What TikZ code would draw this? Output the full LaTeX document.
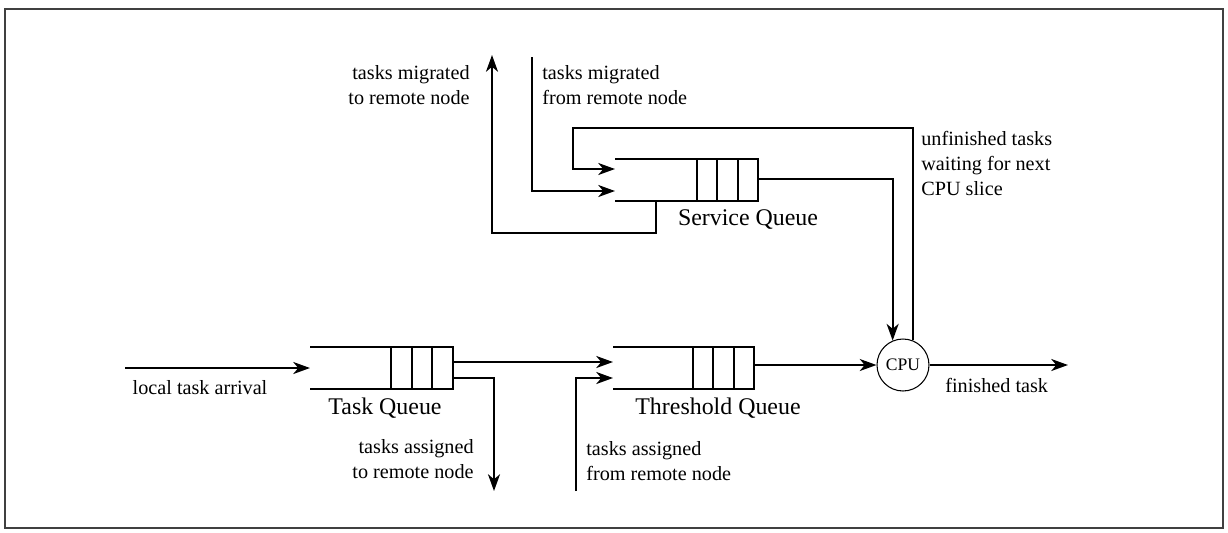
\documentclass[tikz,border=0pt]{standalone}
\usepackage{fontspec}
\setmainfont{Liberation Serif}
\usetikzlibrary{arrows.meta}

\tikzset{
  flow/.style={line width=1.3pt,-{Stealth[length=9.5pt,width=6.8pt,inset=2.8pt]}},
  wire/.style={line width=1.3pt},
  qline/.style={line width=0.6pt},
  frame/.style={line width=1pt,draw=black!75},
  lbl/.style={font=\fontsize{11.5}{14.2}\selectfont,inner sep=0pt},
  qname/.style={font=\fontsize{13.6}{16}\selectfont,inner sep=0pt},
  cpu/.style={draw,circle,line width=0.6pt,minimum size=1.04cm,inner sep=0pt,font=\fontsize{10}{12}\selectfont}
}

\begin{document}
\begin{tikzpicture}[x=0.02cm,y=-0.02cm]

  \useasboundingbox (0,0) rectangle (1228,532);

  % Draw frame
  \draw[frame] (5,9) rectangle (1223,528);

  % Draw task queue
  \coordinate (TQ) at (310,347);
  \draw[qline] (TQ) -- ++(143,0) -- ++(0,42) -- ++(-143,0);
  \foreach \dx in {81,102,122} \draw[qline] (TQ) ++(\dx,0) -- ++(0,42);
  \node[qname,anchor=base] (TQname) at (385,414) {Task Queue};

  % Draw threshold queue
  \coordinate (HQ) at (613,347);
  \draw[qline] (HQ) -- ++(141,0) -- ++(0,42) -- ++(-141,0);
  \foreach \dx in {80,100,121} \draw[qline] (HQ) ++(\dx,0) -- ++(0,42);
  \node[qname,anchor=base] (HQname) at (718,414) {Threshold Queue};

  % Draw service queue
  \coordinate (SQ) at (615,159);
  \draw[qline] (SQ) -- ++(143,0) -- ++(0,42) -- ++(-143,0);
  \foreach \dx in {82,102,123} \draw[qline] (SQ) ++(\dx,0) -- ++(0,42);
  \node[qname,anchor=base] (SQname) at (748,225) {Service Queue};

  % Draw CPU
  \node[cpu] (cpu) at (903,365) {CPU};

  % Draw local arrival
  \coordinate (A0) at (125,368);
  \coordinate (A1) at (310,368);
  \draw[flow] (A0) -- (A1);
  \node[lbl,anchor=base] (arrival) at (200,394) {local task arrival};

  % Draw task queue outputs
  \coordinate (TQ1) at (453,362);
  \coordinate (TQ2) at (453,378);
  \coordinate (HQ1) at (613,362);
  \coordinate (TA) at (494,491);
  \draw[flow] (TQ1) -- (HQ1);
  \draw[flow] (TQ2) -| (TA);
  \node[lbl,align=right,anchor=north east] (assignto) at (474,439) {tasks assigned\\to remote node};

  % Draw assigned from remote node
  \coordinate (FA) at (576,491);
  \coordinate (HQ2) at (613,378);
  \draw[flow] (FA) |- (HQ2);
  \node[lbl,align=left,anchor=north west] (assignfrom) at (586,441) {tasks assigned\\from remote node};

  % Draw threshold queue output
  \coordinate (HQ3) at (754,365);
  \draw[flow] (HQ3) -- (cpu.west);

  % Draw finished task
  \coordinate (F1) at (1068,365);
  \draw[flow] (cpu.east) -- (F1);
  \node[lbl,anchor=base west] (finished) at (945,392) {finished task};

  % Draw service queue output
  \coordinate (SQ3) at (758,179);
  \draw[flow] (SQ3) -| (cpu.113);

  % Draw unfinished tasks loop
  \coordinate (U0) at (573,128);
  \coordinate (SQ1) at (615,169);
  \draw[flow] (cpu.68) |- (U0) |- (SQ1);
  \node[lbl,align=left,anchor=north west] (unfinished) at (921,131) {unfinished tasks\\waiting for next\\CPU slice};

  % Draw migrated from remote node
  \coordinate (MF) at (532,57);
  \coordinate (SQ2) at (615,191);
  \draw[flow] (MF) |- (SQ2);
  \node[lbl,align=left,anchor=north west] (migfrom) at (542,65) {tasks migrated\\from remote node};

  % Draw migrated to remote node
  \coordinate (SQ4) at (656,201);
  \coordinate (M0) at (492,233);
  \coordinate (MT) at (492,55);
  \draw[flow] (SQ4) |- (M0) -- (MT);
  \node[lbl,align=right,anchor=north east] (migto) at (470,65) {tasks migrated\\to remote node};

\end{tikzpicture}
\end{document}
